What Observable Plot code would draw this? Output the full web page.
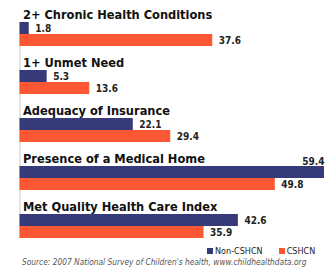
<!DOCTYPE html>
<html>
<head>
<meta charset="utf-8">
<script src="https://cdn.jsdelivr.net/npm/d3@7"></script>
<script src="https://cdn.jsdelivr.net/npm/@observablehq/plot@0.6"></script>
<style>
  html, body { margin: 0; padding: 0; background: #fff; }
  #wrap { position: relative; width: 327px; height: 268px; overflow: hidden; font-family: "DejaVu Sans Condensed", "DejaVu Sans", sans-serif; }
  #legend { position: absolute; top: 246px; left: 207px; display: flex; align-items: center; font-size: 9px; color: #222; white-space: nowrap; }
  #legend .sw { display: inline-block; width: 6px; height: 6px; margin-right: 2px; }
  #legend .item { display: flex; align-items: center; }
  #source { position: absolute; top: 257px; left: 22px; font-size: 8.3px; line-height: 10px; font-style: italic; color: #555; white-space: nowrap; }
</style>
</head>
<body>
<div id="wrap"></div>
<script>
const categories = [
  "2+ Chronic Health Conditions",
  "1+ Unmet Need",
  "Adequacy of Insurance",
  "Presence of a Medical Home",
  "Met Quality Health Care Index"
];
const series = ["Non-CSHCN", "CSHCN"];
const nonCSHCN = [1.8, 5.3, 22.1, 59.4, 42.6];
const cshcn = [37.6, 13.6, 29.4, 49.8, 35.9];
const colors = ["#363a78", "#fd5632"];
const sourceText = "Source: 2007 National Survey of Children's health, www.childhealthdata.org";

const data = categories.flatMap((c, i) => [
  {category: c, series: series[0], value: nonCSHCN[i]},
  {category: c, series: series[1], value: cshcn[i]}
]);
const maxVal = d3.max(data, d => d.value);
const fontFam = "'DejaVu Sans Condensed', 'DejaVu Sans', sans-serif";

const chart = Plot.plot({
  width: 327,
  height: 243,
  marginLeft: 19.5,
  marginRight: 3,
  marginTop: 21,
  marginBottom: 3.5,
  style: {fontFamily: fontFam, background: "#fff"},
  x: {domain: [0, maxVal], axis: null},
  y: {domain: series, paddingInner: 0.04, paddingOuter: 0, axis: null},
  fy: {domain: categories, paddingInner: 0.504, paddingOuter: 0, axis: null},
  color: {domain: series, range: colors},
  marks: [
    Plot.ruleX(categories.slice(0, -1), {x: () => 0, fy: d => d, stroke: "#c8c8c8", insetBottom: -24.5}),
    Plot.ruleX(categories.slice(-1), {x: () => 0, fy: d => d, stroke: "#c8c8c8"}),
    Plot.barX(data, {x: "value", y: "series", fy: "category", fill: "series"}),
    Plot.text(categories, {fy: d => d, text: d => d, frameAnchor: "top-left", lineAnchor: "bottom", dx: 3, dy: -4, fontSize: 12.7, fontWeight: "bold", fill: "#111"}),
    Plot.text(data.filter(d => d.value < maxVal), {x: "value", y: "series", fy: "category", text: d => d.value.toFixed(1), textAnchor: "start", dx: 6, dy: 0.5, fontSize: 10, fontWeight: "bold", fill: "#222"}),
    Plot.text(data.filter(d => d.value === maxVal), {x: "value", y: "series", fy: "category", text: d => d.value.toFixed(1), textAnchor: "end", dx: 0, dy: -10.5, fontSize: 10, fontWeight: "bold", fill: "#222"})
  ]
});

const wrap = document.getElementById("wrap");
wrap.appendChild(chart);

const legend = document.createElement("div");
legend.id = "legend";
series.forEach((s, i) => {
  const item = document.createElement("span");
  item.className = "item";
  if (i > 0) item.style.marginLeft = "16px";
  const sw = document.createElement("span");
  sw.className = "sw";
  sw.style.background = colors[i];
  const lab = document.createElement("span");
  lab.textContent = s;
  item.appendChild(sw);
  item.appendChild(lab);
  legend.appendChild(item);
});
wrap.appendChild(legend);

const src = document.createElement("div");
src.id = "source";
src.textContent = sourceText;
wrap.appendChild(src);
</script>
</body>
</html>
